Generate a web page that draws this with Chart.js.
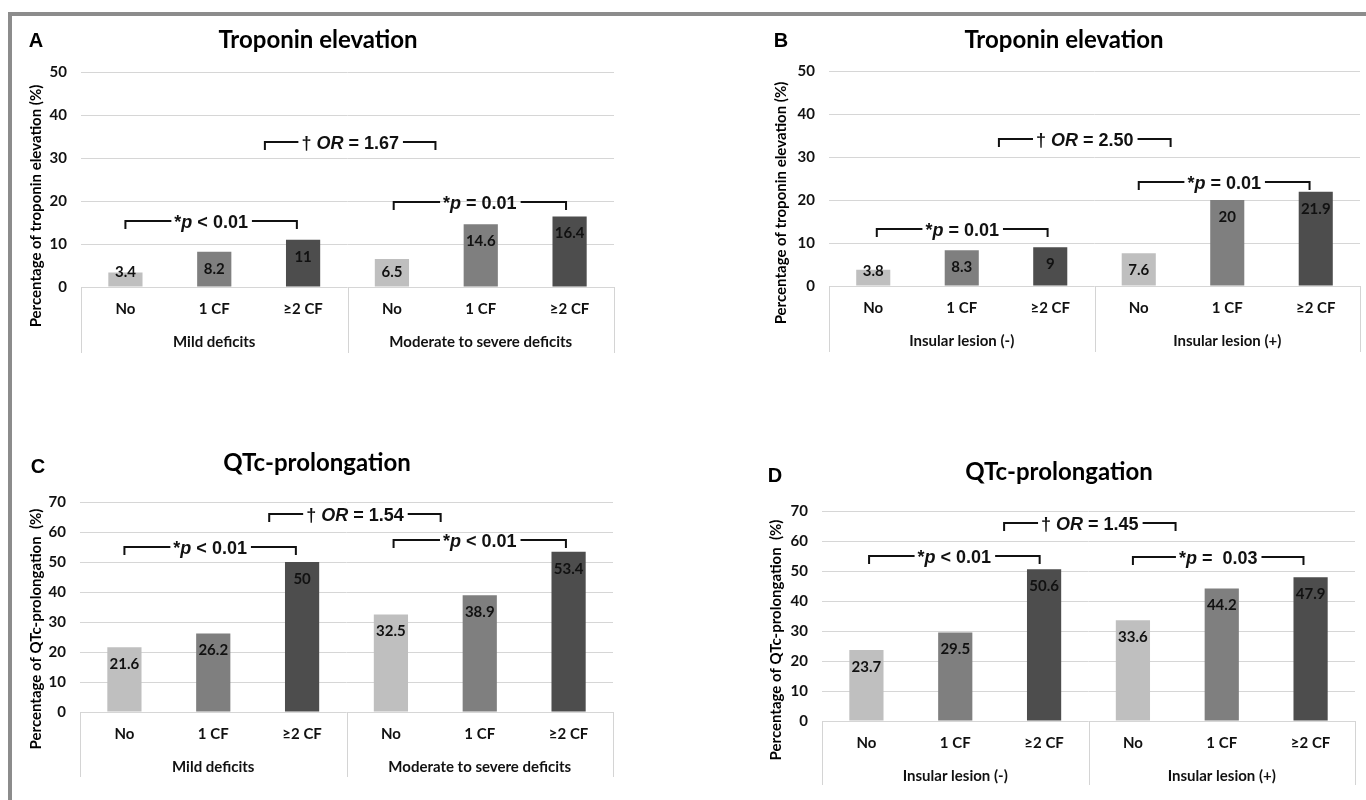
<!DOCTYPE html>
<html>
<head>
<meta charset="utf-8">
<script src="https://cdn.jsdelivr.net/npm/chart.js@4.4.0/dist/chart.umd.min.js"></script>
<style>
  body { margin: 0; background: #fff; }
  #page { position: relative; width: 1366px; height: 800px; overflow: hidden; }
  #frame { position: absolute; left: 8px; top: 12px; width: 1366px; height: 800px;
           border-left: 4px solid #8c8c8c; border-top: 4px solid #8c8c8c; }
  canvas { position: absolute; }
</style>
</head>
<body>
<div id="page">
  <div id="frame"></div>
  <canvas id="panelA" width="683" height="400" style="left:0;top:0"></canvas>
  <canvas id="panelB" width="683" height="400" style="left:683px;top:0"></canvas>
  <canvas id="panelC" width="683" height="400" style="left:0;top:400px"></canvas>
  <canvas id="panelD" width="683" height="400" style="left:683px;top:400px"></canvas>
</div>
<script>
// categories
const cfLabels = ['No', '1 CF', '≥2 CF', 'No', '1 CF', '≥2 CF'];
const deficitGroups = ['Mild deficits', 'Moderate to severe deficits'];
const insularGroups = ['Insular lesion (-)', 'Insular lesion (+)'];

// series values (%)
const troponinByDeficit = [3.4, 8.2, 11, 6.5, 14.6, 16.4];
const troponinByInsula = [3.8, 8.3, 9, 7.6, 20, 21.9];
const qtcByDeficit = [21.6, 26.2, 50, 32.5, 38.9, 53.4];
const qtcByInsula = [23.7, 29.5, 50.6, 33.6, 44.2, 47.9];

// y axis ranges
const troponinMax = 50;
const qtcMax = 70;
const tickStep = 10;

// significance brackets: from/to are category indices, y is the value level
const bracketsA = [
    { from: 0, to: 1.93, y: 15.3, text: '*_p_ < 0.01' },
    { from: 3.02, to: 4.96, y: 19.8, text: '*_p_ = 0.01' },
    { from: 1.57, to: 3.49, y: 33.7, text: '† _OR_ = 1.67' }
];
const bracketsB = [
    { from: 0.04, to: 1.97, y: 13.3, text: '*_p_ = 0.01' },
    { from: 3.0, to: 4.93, y: 24.2, text: '*_p_ = 0.01' },
    { from: 1.42, to: 3.36, y: 34.2, text: '† _OR_ = 2.50' }
];
const bracketsC = [
    { from: 0, to: 1.93, y: 55, text: '*_p_ < 0.01' },
    { from: 3.03, to: 4.97, y: 57.3, text: '*_p_ < 0.01' },
    { from: 1.63, to: 3.56, y: 66, text: '† _OR_ = 1.54' }
];
const bracketsD = [
    { from: 0.03, to: 1.95, y: 55, text: '*_p_ < 0.01' },
    { from: 3.0, to: 4.92, y: 54.7, text: '*_p_ =  0.03' },
    { from: 1.55, to: 3.48, y: 66, text: '† _OR_ = 1.45' }
];

const barColors = ['#bfbfbf', '#7f7f7f', '#4d4d4d', '#bfbfbf', '#7f7f7f', '#4d4d4d'];
const labelFont = 'bold 15px Lato, "DejaVu Sans", sans-serif';
const noteFont = '"Liberation Sans", Arial, sans-serif';

function drawRich(ctx, text, cx, cy) {
    const parts = text.split('_');
    const fonts = parts.map((p, i) => (i % 2 ? 'italic ' : '') + 'bold 18px ' + noteFont);
    const widths = parts.map((p, i) => { ctx.font = fonts[i]; return ctx.measureText(p).width; });
    const total = widths.reduce((a, b) => a + b, 0);
    let x = cx - total / 2;
    ctx.textAlign = 'left';
    ctx.textBaseline = 'middle';
    parts.forEach((p, i) => {
        ctx.font = fonts[i];
        ctx.fillText(p, x, cy);
        x += widths[i];
    });
    return [cx - total / 2, cx + total / 2];
}

const panelDecor = {
    id: 'panelDecor',
    afterDatasetsDraw(chart, args, opts) {
        const ctx = chart.ctx;
        const xs = chart.scales.x;
        const ys = chart.scales.y;
        const area = chart.chartArea;
        ctx.save();

        // value labels inside the bar ends
        const meta = chart.getDatasetMeta(0);
        ctx.font = labelFont;
        ctx.fillStyle = '#111';
        ctx.textAlign = 'center';
        ctx.textBaseline = 'middle';
        meta.data.forEach((bar, i) => {
            const v = chart.data.datasets[0].data[i];
            ctx.fillText(String(v), bar.x, Math.min(bar.y + 17, bar.base - 14));
        });

        // group dividers and group labels
        ctx.strokeStyle = '#d4d4d4';
        ctx.lineWidth = 1;
        const mid = (area.left + area.right) / 2;
        [area.left, mid, area.right].forEach(px => {
            const p = Math.round(px) + 0.5;
            ctx.beginPath();
            ctx.moveTo(p, area.bottom);
            ctx.lineTo(p, area.bottom + opts.dividerDepth);
            ctx.stroke();
        });
        ctx.font = labelFont;
        ctx.fillStyle = '#111';
        ctx.textAlign = 'center';
        ctx.fillText(opts.groups[0], (area.left + mid) / 2, area.bottom + 55);
        ctx.fillText(opts.groups[1], (mid + area.right) / 2, area.bottom + 55);

        // brackets
        ctx.strokeStyle = '#111';
        ctx.fillStyle = '#111';
        ctx.lineWidth = 2;
        opts.brackets.forEach(b => {
            const x1 = xs.getPixelForValue(b.from);
            const x2 = xs.getPixelForValue(b.to);
            const y = Math.round(ys.getPixelForValue(b.y));
            const [tl, tr] = drawRich(ctx, b.text, (x1 + x2) / 2, y + 2);
            ctx.beginPath();
            ctx.moveTo(x1, y + 8);
            ctx.lineTo(x1, y);
            ctx.lineTo(tl - 3, y);
            ctx.moveTo(tr + 4, y);
            ctx.lineTo(x2, y);
            ctx.lineTo(x2, y + 8);
            ctx.stroke();
        });

        // panel letter, title, y axis title
        ctx.fillStyle = '#000';
        ctx.textAlign = 'center';
        ctx.textBaseline = 'middle';
        ctx.font = 'bold 20px ' + noteFont;
        ctx.fillText(opts.letter, opts.letterPos[0], opts.letterPos[1]);
        ctx.font = 'bold 24px Lato, sans-serif';
        ctx.fillText(opts.title, opts.titlePos[0], opts.titlePos[1]);
        ctx.translate(opts.yTitlePos[0], opts.yTitlePos[1]);
        ctx.rotate(-Math.PI / 2);
        ctx.font = 'bold 15px Lato, sans-serif';
        ctx.fillText(opts.yTitle, 0, 0);
        ctx.restore();
    }
};

function NewPanel(id, values, yMax, layout, decor) {
    const ctx = document.getElementById(id).getContext('2d');
    const config = {
        type: 'bar',
        data: {
            labels: cfLabels,
            datasets: [{
                data: values,
                backgroundColor: barColors,
                borderWidth: 0,
                categoryPercentage: 1,
                barPercentage: 0.385
            }]
        },
        options: {
            responsive: false,
            animation: false,
            devicePixelRatio: 1,
            layout: {
                padding: { left: 0, right: layout.right, top: layout.top, bottom: 0 }
            },
            scales: {
                x: {
                    grid: { display: false, drawTicks: false },
                    border: { display: false },
                    ticks: { color: '#111', font: { family: 'Lato', size: 15, weight: 'bold' }, padding: 13 },
                    afterFit: (scale) => { scale.height = layout.xHeight; }
                },
                y: {
                    min: 0,
                    max: yMax,
                    grid: { color: '#d6d6d6', lineWidth: 1, drawTicks: false },
                    border: { display: false },
                    ticks: {
                        stepSize: tickStep,
                        color: '#111',
                        font: { family: 'Lato', size: 15, weight: 'bold' },
                        padding: 14
                    },
                    afterFit: (scale) => { scale.width = layout.yWidth; }
                }
            },
            plugins: {
                legend: { display: false },
                tooltip: { enabled: false },
                title: { display: false },
                panelDecor: decor
            }
        },
        plugins: [panelDecor]
    };
    return new Chart(ctx, config);
}

NewPanel('panelA', troponinByDeficit, troponinMax,
    { top: 72, right: 69, yWidth: 81, xHeight: 113 },
    { letter: 'A', letterPos: [36, 41], title: 'Troponin elevation', titlePos: [318, 40],
      yTitle: 'Percentage of troponin elevation (%)', yTitlePos: [36, 206],
      groups: deficitGroups, brackets: bracketsA, dividerDepth: 66 });

NewPanel('panelB', troponinByInsula, troponinMax,
    { top: 71, right: 6, yWidth: 146, xHeight: 114 },
    { letter: 'B', letterPos: [98, 41], title: 'Troponin elevation', titlePos: [381, 40],
      yTitle: 'Percentage of troponin elevation (%)', yTitlePos: [98, 203],
      groups: insularGroups, brackets: bracketsB, dividerDepth: 66 });

NewPanel('panelC', qtcByDeficit, qtcMax,
    { top: 102, right: 70, yWidth: 80, xHeight: 88 },
    { letter: 'C', letterPos: [38, 67], title: 'QTc-prolongation', titlePos: [317, 63],
      yTitle: 'Percentage of QTc-prolongation  (%)', yTitlePos: [36, 629 - 400],
      groups: deficitGroups, brackets: bracketsC, dividerDepth: 65 });

NewPanel('panelD', qtcByInsula, qtcMax,
    { top: 111, right: 11, yWidth: 139, xHeight: 79 },
    { letter: 'D', letterPos: [92, 76], title: 'QTc-prolongation', titlePos: [376, 72],
      yTitle: 'Percentage of QTc-prolongation  (%)', yTitlePos: [93, 240],
      groups: insularGroups, brackets: bracketsD, dividerDepth: 64 });
</script>
</body>
</html>
